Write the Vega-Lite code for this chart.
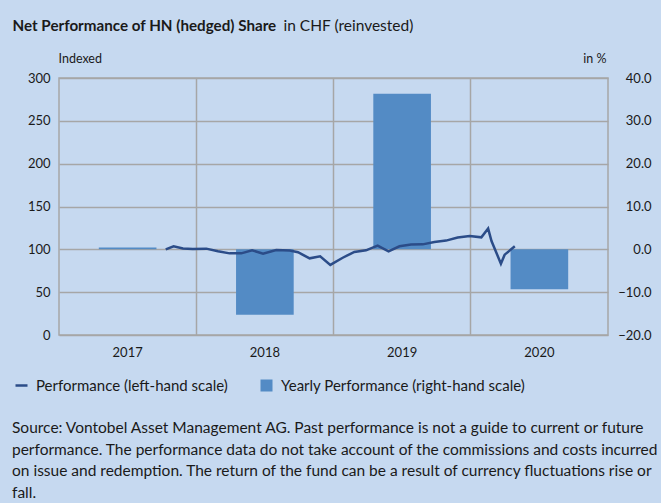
{
  "$schema": "https://vega.github.io/schema/vega-lite/v6.json",
  "width": 549,
  "height": 257,
  "autosize": {"type": "none"},
  "padding": {"left": 59, "top": 78, "right": 53, "bottom": 168},
  "background": "#c6d9f0",
  "title": {
    "text": [
      "Source: Vontobel Asset Management AG. Past performance is not a guide to current or future",
      "performance. The performance data do not take account of the commissions and costs incurred",
      "on issue and redemption. The return of the fund can be a result of currency fluctuations rise or",
      "fall."
    ],
    "orient": "bottom",
    "anchor": "start",
    "frame": "group",
    "dx": -47,
    "offset": 27,
    "fontSize": 15.5,
    "fontWeight": "normal",
    "lineHeight": 21.6,
    "color": "#1a1a1a",
    "font": "Lato"
  },
  "datasets": {
    "perf": [
      {"date": "2017-10-12", "value": 100, "series": "Performance (left-hand scale)"},
      {"date": "2017-11-02", "value": 103.5, "series": "Performance (left-hand scale)"},
      {"date": "2017-11-27", "value": 101, "series": "Performance (left-hand scale)"},
      {"date": "2017-12-23", "value": 100.4, "series": "Performance (left-hand scale)"},
      {"date": "2018-01-28", "value": 100.8, "series": "Performance (left-hand scale)"},
      {"date": "2018-02-28", "value": 97.7, "series": "Performance (left-hand scale)"},
      {"date": "2018-03-31", "value": 95.3, "series": "Performance (left-hand scale)"},
      {"date": "2018-05-01", "value": 95.3, "series": "Performance (left-hand scale)"},
      {"date": "2018-05-30", "value": 98.8, "series": "Performance (left-hand scale)"},
      {"date": "2018-06-28", "value": 94.9, "series": "Performance (left-hand scale)"},
      {"date": "2018-08-02", "value": 99.3, "series": "Performance (left-hand scale)"},
      {"date": "2018-09-07", "value": 98.5, "series": "Performance (left-hand scale)"},
      {"date": "2018-09-29", "value": 96.6, "series": "Performance (left-hand scale)"},
      {"date": "2018-10-30", "value": 89.5, "series": "Performance (left-hand scale)"},
      {"date": "2018-11-27", "value": 91.8, "series": "Performance (left-hand scale)"},
      {"date": "2018-12-24", "value": 81.8, "series": "Performance (left-hand scale)"},
      {"date": "2019-01-26", "value": 90.2, "series": "Performance (left-hand scale)"},
      {"date": "2019-02-26", "value": 96.9, "series": "Performance (left-hand scale)"},
      {"date": "2019-03-29", "value": 98.8, "series": "Performance (left-hand scale)"},
      {"date": "2019-04-29", "value": 104.3, "series": "Performance (left-hand scale)"},
      {"date": "2019-05-28", "value": 97.7, "series": "Performance (left-hand scale)"},
      {"date": "2019-06-26", "value": 103.5, "series": "Performance (left-hand scale)"},
      {"date": "2019-07-27", "value": 105.5, "series": "Performance (left-hand scale)"},
      {"date": "2019-08-27", "value": 105.8, "series": "Performance (left-hand scale)"},
      {"date": "2019-09-27", "value": 108.6, "series": "Performance (left-hand scale)"},
      {"date": "2019-10-28", "value": 110.2, "series": "Performance (left-hand scale)"},
      {"date": "2019-11-28", "value": 113.7, "series": "Performance (left-hand scale)"},
      {"date": "2019-12-30", "value": 115.5, "series": "Performance (left-hand scale)"},
      {"date": "2020-01-30", "value": 114, "series": "Performance (left-hand scale)"},
      {"date": "2020-02-17", "value": 124.2, "series": "Performance (left-hand scale)"},
      {"date": "2020-02-26", "value": 109.7, "series": "Performance (left-hand scale)"},
      {"date": "2020-03-22", "value": 83.3, "series": "Performance (left-hand scale)"},
      {"date": "2020-04-01", "value": 93.8, "series": "Performance (left-hand scale)"},
      {"date": "2020-04-28", "value": 103.5, "series": "Performance (left-hand scale)"}
    ],
    "yearly": [
      {"year": "2017", "pct": 0.4, "series": "Yearly Performance (right-hand scale)"},
      {"year": "2018", "pct": -15.3, "series": "Yearly Performance (right-hand scale)"},
      {"year": "2019", "pct": 36.3, "series": "Yearly Performance (right-hand scale)"},
      {"year": "2020", "pct": -9.3, "series": "Yearly Performance (right-hand scale)"}
    ]
  },
  "config": {
    "font": "Lato",
    "view": {"stroke": "#a6a6a6", "strokeWidth": 1.5},
    "axis": {
      "labelColor": "#1a1a1a",
      "labelFontSize": 13,
      "titleColor": "#1a1a1a",
      "gridColor": "#a6a6a6",
      "gridWidth": 1.5,
      "ticks": false,
      "domain": false
    },
    "legend": {
      "labelColor": "#1a1a1a",
      "labelFontSize": 15,
      "labelFont": "Lato",
      "labelLimit": 400
    }
  },
  "layer": [
    {
      "data": {"name": "yearly"},
      "mark": {"type": "bar"},
      "encoding": {
        "x": {
          "field": "year",
          "type": "ordinal",
          "scale": {"paddingInner": 0.58, "paddingOuter": 0.29},
          "axis": {
            "orient": "bottom",
            "grid": false,
            "labelAngle": 0,
            "labelPadding": 11,
            "title": "in CHF (reinvested)",
            "titleFontSize": 15.5,
            "titleFontWeight": "normal",
            "titleAnchor": null,
            "titleAlign": "left",
            "titleBaseline": "alphabetic",
            "titleX": 224,
            "titleY": -305
          }
        },
        "y": {
          "field": "pct",
          "type": "quantitative",
          "scale": {"domain": [-20, 40], "nice": false},
          "axis": {
            "orient": "right",
            "grid": false,
            "values": [-20, -10, 0, 10, 20, 30, 40],
            "format": ".1f",
            "labelAlign": "right",
            "labelPadding": 43,
            "title": "in %",
            "titleFontSize": 12.5,
            "titleFontWeight": "normal",
            "titleAngle": 0,
            "titleAnchor": null,
            "titleAlign": "right",
            "titleBaseline": "middle",
            "titleX": -2,
            "titleY": -20
          }
        },
        "fill": {
          "field": "series",
          "type": "nominal",
          "scale": {"range": ["#538bc5"]},
          "legend": {
            "title": null,
            "orient": "none",
            "legendX": 200,
            "legendY": 300,
            "symbolType": "square",
            "symbolSize": 144,
            "symbolStrokeWidth": 0,
            "labelOffset": 7
          }
        }
      }
    },
    {
      "data": {"name": "perf"},
      "mark": {"type": "line", "strokeWidth": 2.5},
      "encoding": {
        "x": {
          "field": "date",
          "type": "temporal",
          "scale": {
            "type": "utc",
            "domain": [
              {"year": 2017, "month": 1, "date": 1, "utc": true},
              {"year": 2021, "month": 1, "date": 1, "utc": true}
            ]
          },
          "axis": {
            "orient": "top",
            "grid": true,
            "labels": false,
            "values": [
              {"year": 2018, "month": 1, "date": 1, "utc": true},
              {"year": 2019, "month": 1, "date": 1, "utc": true},
              {"year": 2020, "month": 1, "date": 1, "utc": true}
            ],
            "title": "Net Performance of HN (hedged) Share",
            "titleFontSize": 15.2,
            "titleFontWeight": "bold",
            "titleAnchor": null,
            "titleAlign": "left",
            "titleBaseline": "alphabetic",
            "titleX": -47,
            "titleY": -48
          }
        },
        "y": {
          "field": "value",
          "type": "quantitative",
          "scale": {"domain": [0, 300], "nice": false},
          "axis": {
            "orient": "left",
            "grid": true,
            "values": [0, 50, 100, 150, 200, 250, 300],
            "labelPadding": 9,
            "title": "Indexed",
            "titleFontSize": 12.5,
            "titleFontWeight": "normal",
            "titleAngle": 0,
            "titleAnchor": null,
            "titleAlign": "left",
            "titleBaseline": "middle",
            "titleX": -1,
            "titleY": -20
          }
        },
        "stroke": {
          "field": "series",
          "type": "nominal",
          "scale": {"range": ["#2b4c88"]},
          "legend": {
            "title": null,
            "orient": "none",
            "legendX": -45,
            "legendY": 300,
            "symbolType": "stroke",
            "symbolSize": 144,
            "symbolStrokeWidth": 2.5,
            "labelOffset": 7
          }
        }
      }
    }
  ],
  "resolve": {
    "scale": {"x": "independent", "y": "independent"},
    "axis": {"x": "independent", "y": "independent"}
  }
}
